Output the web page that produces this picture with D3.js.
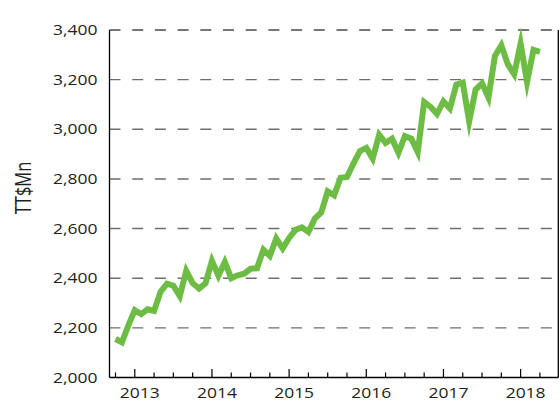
<!DOCTYPE html>
<html>
<head>
<meta charset="utf-8">
<script src="https://cdn.jsdelivr.net/npm/d3@7"></script>
<style>
    html, body { margin: 0; padding: 0; background: #fff; }
    text { font-family: "Open Sans", sans-serif; fill: #231f20; }
</style>
</head>
<body>
<div id="chart"></div>
<script>
// monthly values, Oct 2012 .. Apr 2018 (TT$Mn)
const values = [
    2155, 2142, 2210, 2271, 2255, 2275, 2268, 2345, 2378, 2370, 2328, 2430,
    2380, 2358, 2380, 2470, 2410, 2465, 2400, 2412, 2418, 2438, 2440, 2515,
    2490, 2560, 2520, 2562, 2595, 2605, 2586, 2640, 2665, 2750, 2734, 2805,
    2808, 2862, 2912, 2925, 2882, 2978, 2945, 2962, 2905, 2972, 2962, 2908,
    3110, 3090, 3062, 3112, 3084, 3180, 3188, 3032, 3160, 3185, 3128, 3295,
    3338, 3262, 3222, 3345, 3190, 3320, 3312
];
const yearLabels = ["2013", "2014", "2015", "2016", "2017", "2018"];
const yearIndex = [3, 15, 27, 39, 51, 63];   // January of each year in values
const yTicks = [2000, 2200, 2400, 2600, 2800, 3000, 3200, 3400];

const width = 560;
const height = 401;
const plotLeft = 109.5, plotRight = 558.3, plotTop = 30, plotBottom = 377.5;
const sx = 1.25; // horizontal stretch of the original text

const svg = d3.select("#chart")
    .append("svg")
    .attr("width", width)
    .attr("height", height);

const x = d3.scaleLinear().domain([-0.933, 68.86]).range([plotLeft, plotRight]);
const y = d3.scaleLinear().domain([2000, 3400]).range([plotBottom, plotTop]);
const fmt = d3.format(",");

// dashed gridlines
svg.selectAll(".grid")
    .data(yTicks.filter(d => d > 2000))
    .enter()
    .append("line")
    .attr("x1", plotLeft)
    .attr("x2", plotRight)
    .attr("y1", d => y(d))
    .attr("y2", d => y(d))
    .attr("stroke", d => d === 3400 ? "#4a4a4a" : "#6e6e6e")
    .attr("stroke-width", 1.4)
    .attr("stroke-dasharray", "11,11.7");

// frame: left, right, bottom
svg.append("line").attr("x1", plotLeft).attr("x2", plotLeft).attr("y1", plotTop).attr("y2", plotBottom)
    .attr("stroke", "#000").attr("stroke-width", 1.3);
svg.append("line").attr("x1", plotRight).attr("x2", plotRight).attr("y1", plotTop).attr("y2", plotBottom)
    .attr("stroke", "#000").attr("stroke-width", 1.3);
svg.append("line").attr("x1", plotLeft).attr("x2", plotRight).attr("y1", plotBottom).attr("y2", plotBottom)
    .attr("stroke", "#000").attr("stroke-width", 1.3);

// quarterly ticks, taller at year starts
const tickIdx = d3.range(0, 67, 3);
svg.selectAll(".tick")
    .data(tickIdx)
    .enter()
    .append("line")
    .attr("x1", d => x(d))
    .attr("x2", d => x(d))
    .attr("y1", plotBottom)
    .attr("y2", d => yearIndex.includes(d) ? plotBottom - 8.5 : plotBottom - 5)
    .attr("stroke", "#000")
    .attr("stroke-width", 1.2);

// y tick labels
svg.selectAll(".ylab")
    .data(yTicks)
    .enter()
    .append("text")
    .attr("transform", d => `translate(97.5,${y(d)}) scale(${sx},1)`)
    .attr("text-anchor", "end")
    .attr("dy", "0.36em")
    .style("font-size", "14px")
    .text(d => fmt(d));

// x year labels
svg.selectAll(".xlab")
    .data(yearLabels)
    .enter()
    .append("text")
    .attr("transform", (d, i) => `translate(${x(yearIndex[i]) + 5},398) scale(${sx},1)`)
    .attr("text-anchor", "middle")
    .style("font-size", "14px")
    .text(d => d);

// y axis title
svg.append("text")
    .attr("transform", "translate(23,188) scale(1.35,1) rotate(-90)")
    .attr("text-anchor", "middle")
    .attr("dy", "0.36em")
    .style("font-size", "16.5px")
    .text("TT$Mn");

// data line
const line = d3.line()
    .x((d, i) => x(i))
    .y(d => y(d));

svg.append("path")
    .datum(values)
    .attr("d", line)
    .attr("fill", "none")
    .attr("stroke", "#6dbd45")
    .attr("stroke-width", 6)
    .attr("stroke-linejoin", "miter")
    .attr("stroke-miterlimit", 10);
</script>
</body>
</html>
